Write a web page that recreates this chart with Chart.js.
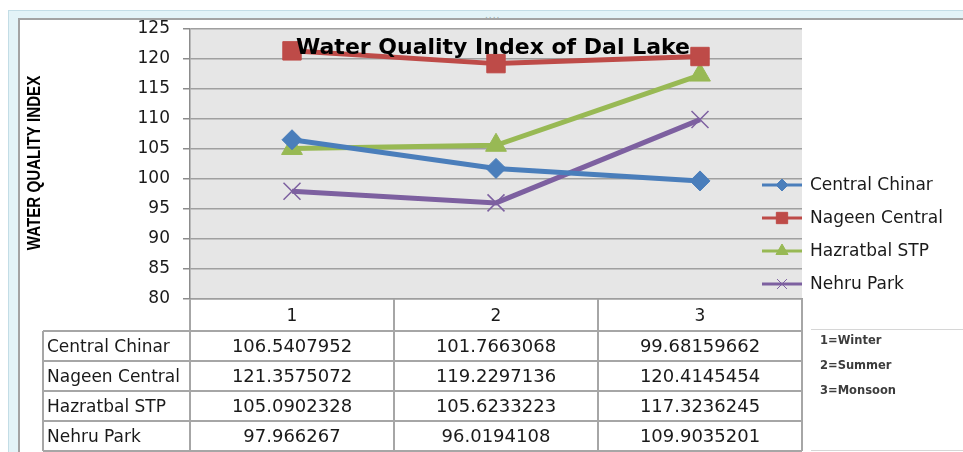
<!DOCTYPE html>
<html>
<head>
<meta charset="utf-8">
<script src="https://cdn.jsdelivr.net/npm/chart.js@4.4.0/dist/chart.umd.min.js"></script>
<style>
  html, body { margin: 0; padding: 0; background: #fff; overflow: hidden; }
  #wrap { position: relative; width: 963px; height: 452px; overflow: hidden; font-family: 'DejaVu Sans', sans-serif; }
  .band { position: absolute; left: 8px; top: 10px; width: 990px; height: 480px; background: #e3f3f7; border-left: 1px solid #c3dde6; border-top: 1px solid #c3dde6; }
  .inner { position: absolute; left: 18px; top: 18px; width: 980px; height: 470px; background: #fff; border-left: 2px solid #a3a3a3; border-top: 2px solid #a3a3a3; }
  .dots { position: absolute; left: 485px; top: 12px; font-size: 9px; letter-spacing: 1px; color: #9aa; line-height: 6px; }
  canvas { position: absolute; left: 0; top: 0; }
  .ln { position: absolute; background: #a6a6a6; }
  .cell { position: absolute; height: 30px; line-height: 30px; color: #1a1a1a; white-space: nowrap; }
  .note { position: absolute; left: 820px; font-size: 11.5px; font-weight: bold; color: #3c3c3c; }
</style>
</head>
<body>
<div id="wrap">
  <div class="band"></div>
  <div class="inner"></div>
  <div class="dots">....</div>
  <canvas id="wqiChart" width="963" height="452"></canvas>
  <div id="table"></div>
</div>
<script>
// Data
const categories = ['1', '2', '3'];
const seasonNotes = ['1=Winter', '2=Summer', '3=Monsoon'];
const seriesNames = ['Central Chinar', 'Nageen Central', 'Hazratbal STP', 'Nehru Park'];
const centralChinar = [106.5407952, 101.7663068, 99.68159662];
const nageenCentral = [121.3575072, 119.2297136, 120.4145454];
const hazratbalStp = [105.0902328, 105.6233223, 117.3236245];
const nehruPark = [97.966267, 96.0194108, 109.9035201];
const yMin = 80, yMax = 125, yStep = 5;

const seriesData = [centralChinar, nageenCentral, hazratbalStp, nehruPark];
const colors = ['#4a7ebb', '#be4b48', '#98b954', '#7d60a0'];
const markers = ['rectRot', 'rect', 'triangle', 'crossRot'];
const markerSize = [10, 13, 12, 12];
const legendMarkerSize = [6, 8, 7, 7];

const textColor = '#1a1a1a';

const decor = {
  id: 'decor',
  beforeDraw(chart) {
    const { ctx, chartArea: a } = chart;
    ctx.save();
    ctx.fillStyle = '#e6e6e6';
    ctx.fillRect(a.left, a.top, a.right - a.left, a.bottom - a.top);
    ctx.restore();
  },
  afterDatasetsDraw(chart) {
    const { ctx } = chart;
    ctx.save();
    // chart title
    ctx.fillStyle = '#000';
    ctx.font = 'bold 22px "DejaVu Sans"';
    ctx.textAlign = 'center';
    ctx.textBaseline = 'middle';
    ctx.fillText('Water Quality Index of Dal Lake', 493, 48);

    // y axis title (condensed, like the narrow font of the original)
    ctx.save();
    ctx.translate(35, 163);
    ctx.rotate(-Math.PI / 2);
    ctx.scale(0.84, 1);
    ctx.font = 'bold 18px "Liberation Sans", sans-serif';
    ctx.fillText('WATER QUALITY INDEX', 0, 0);
    ctx.restore();

    // legend
    ctx.textAlign = 'left';
    ctx.font = '17px "DejaVu Sans"';
    chart.data.datasets.forEach((ds, i) => {
      const y = 185 + i * 33;
      ctx.strokeStyle = ds.borderColor;
      ctx.fillStyle = ds.borderColor;
      ctx.lineWidth = 3;
      ctx.beginPath();
      ctx.moveTo(762, y);
      ctx.lineTo(802, y);
      ctx.stroke();
      ctx.lineWidth = 1;
      Chart.helpers.drawPoint(ctx, {
        pointStyle: markers[i], radius: legendMarkerSize[i], rotation: 0, borderWidth: 1
      }, 782, y);
      ctx.fillStyle = textColor;
      ctx.fillText(ds.label, 810, y + 1);
    });
    ctx.restore();
  }
};

const chart = new Chart(document.getElementById('wqiChart'), {
  type: 'line',
  data: {
    labels: categories,
    datasets: seriesNames.map((name, i) => ({
      label: name,
      data: seriesData[i],
      borderColor: colors[i],
      backgroundColor: colors[i],
      borderWidth: 5,
      pointStyle: markers[i],
      pointRadius: markerSize[i],
      pointBorderWidth: i === 3 ? 1.5 : 1,
      pointBorderColor: colors[i],
      pointBackgroundColor: colors[i],
      tension: 0
    }))
  },
  options: {
    responsive: false,
    animation: false,
    devicePixelRatio: 1,
    layout: { padding: { left: 0, top: 29, right: 161, bottom: 121 } },
    plugins: {
      legend: { display: false },
      title: { display: false },
      tooltip: { enabled: false }
    },
    scales: {
      x: {
        offset: true,
        grid: { display: false, drawTicks: false },
        border: { display: true, color: '#9e9e9e', width: 1.5 },
        ticks: { color: textColor, font: { family: 'DejaVu Sans', size: 17 }, padding: 7 },
        afterFit(scale) { scale.height = 32; }
      },
      y: {
        min: yMin,
        max: yMax,
        ticks: { stepSize: yStep, color: textColor, font: { family: 'DejaVu Sans', size: 17 }, padding: 13 },
        grid: { color: '#a0a0a0', lineWidth: 1.5, tickLength: 7, tickColor: '#8c8c8c' },
        border: { color: '#8c8c8c', width: 1.5 },
        afterFit(scale) { scale.width = 190; }
      }
    }
  },
  plugins: [decor]
});

// data table below the plot, aligned to the x scale
(function buildTable() {
  const box = document.getElementById('table');
  const a = chart.chartArea;
  const xs = chart.scales.x;
  const colW = (a.right - a.left) / categories.length;
  const headTop = a.bottom;
  const rowTop = headTop + 32;
  const rowH = 30;
  const tableLeft = 43;
  const bottom = rowTop + rowH * seriesNames.length;

  function line(x, y, w, h) {
    const d = document.createElement('div');
    d.className = 'ln';
    d.style.cssText = `left:${x}px;top:${y}px;width:${w}px;height:${h}px`;
    box.appendChild(d);
  }
  function cell(text, x, y, center, size) {
    const d = document.createElement('div');
    d.className = 'cell';
    d.textContent = text;
    d.style.top = y + 'px';
    d.style.fontSize = size + 'px';
    if (center) {
      d.style.left = (x - 100) + 'px';
      d.style.width = '200px';
      d.style.textAlign = 'center';
    } else {
      d.style.left = x + 'px';
    }
    box.appendChild(d);
  }

  for (let i = 0; i <= categories.length; i++) {
    line(Math.round(a.left + i * colW) - 1, headTop, 2, bottom - headTop);
  }
  line(tableLeft - 1, rowTop, 2, bottom - rowTop);
  for (let r = 0; r <= seriesNames.length; r++) {
    line(tableLeft, rowTop + r * rowH - 1, a.right - tableLeft, 2);
  }
  seriesNames.forEach((name, r) => {
    const y = rowTop + r * rowH;
    cell(name, tableLeft + 4, y, false, 17);
    seriesData[r].forEach((v, c) => {
      cell(String(v), xs.getPixelForValue(c), y, true, 18);
    });
  });

  // season key box
  const keyTop = document.createElement('div');
  keyTop.className = 'ln';
  keyTop.style.cssText = 'left:811px;top:329px;width:160px;height:1px;background:#d6d6d6';
  box.appendChild(keyTop);
  const keyBot = document.createElement('div');
  keyBot.className = 'ln';
  keyBot.style.cssText = 'left:811px;top:450px;width:160px;height:1px;background:#d6d6d6';
  box.appendChild(keyBot);
  seasonNotes.forEach((t, i) => {
    const d = document.createElement('div');
    d.className = 'note';
    d.textContent = t;
    d.style.top = (333 + i * 25) + 'px';
    box.appendChild(d);
  });
})();
</script>
</body>
</html>
